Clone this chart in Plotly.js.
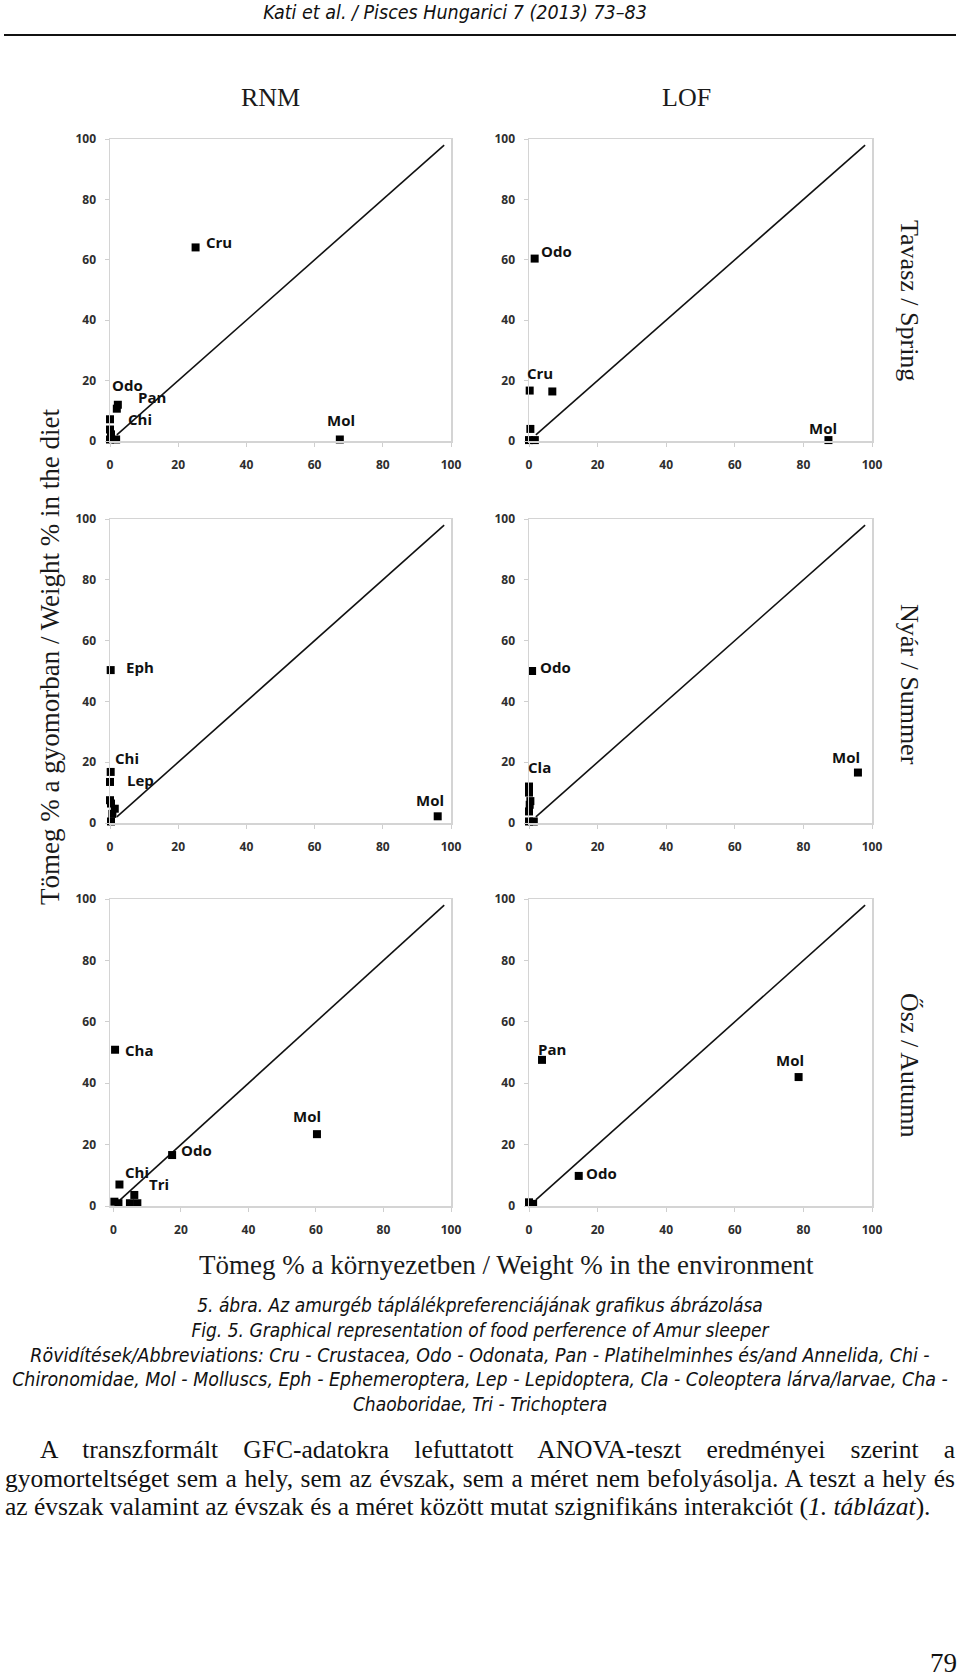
<!DOCTYPE html>
<html><head><meta charset="utf-8">
<script src="https://cdn.plot.ly/plotly-3.0.1.min.js"></script>
<style>
html,body{margin:0;padding:0;background:#fff;}
#page{position:relative;width:960px;height:1677px;overflow:hidden;}
#chart{position:absolute;left:0;top:0;width:960px;height:1677px;}
.t{position:absolute;white-space:nowrap;color:#111;}
.cap{font-family:"Liberation Sans Narrow","DejaVu Sans Condensed","Liberation Sans",sans-serif;font-style:italic;font-size:19px;left:0;width:960px;text-align:center;}
.par{font-family:"Liberation Serif","Times New Roman",serif;font-size:25.5px;}
</style></head>
<body><div id="page">
<div id="chart"></div>
<div class="t cap" style="top:1px;font-size:19.5px;left:-50px;width:1010px;">Kati et al. / Pisces Hungarici 7 (2013) 73–83</div>
<div style="position:absolute;left:4px;top:34px;width:952px;height:2px;background:#111;"></div>
<div class="t cap" style="top:1294px;">5. ábra. Az amurgéb táplálékpreferenciájának grafikus ábrázolása</div>
<div class="t cap" style="top:1319px;">Fig. 5. Graphical representation of food perference of Amur sleeper</div>
<div class="t cap" style="top:1344px;font-size:19.4px;">Rövidítések/Abbreviations: Cru - Crustacea, Odo - Odonata, Pan - Platihelminhes és/and Annelida, Chi -</div>
<div class="t cap" style="top:1368px;font-size:19.4px;">Chironomidae, Mol - Molluscs, Eph - Ephemeroptera, Lep - Lepidoptera, Cla - Coleoptera lárva/larvae, Cha -</div>
<div class="t cap" style="top:1393px;">Chaoboridae, Tri - Trichoptera</div>
<div class="t par" style="top:1435px;left:40px;width:915px;text-align:justify;text-align-last:justify;white-space:normal;">A transzformált GFC-adatokra lefuttatott ANOVA-teszt eredményei szerint a</div>
<div class="t par" style="top:1464px;left:5px;width:950px;text-align:justify;text-align-last:justify;white-space:normal;">gyomorteltséget sem a hely, sem az évszak, sem a méret nem befolyásolja. A teszt a hely és</div>
<div class="t par" style="top:1492px;left:5px;">az évszak valamint az évszak és a méret között mutat szignifikáns interakciót (<i>1. táblázat</i>).</div>
<div class="t" style="top:1648px;right:3px;font-size:27px;font-family:'Liberation Serif',serif;">79</div>
</div>
<script>
// ---- data ----
const oneToOne = [2, 98];

const rnmSpringX = [25.1, 67.4, 2.3, 2.0, 0.0, 0.0, 0.3, 0.0, 1.8];
const rnmSpringY = [64.1, 0.5, 12.0, 10.7, 7.2, 3.8, 2.2, 0.5, 0.5];
const rnmSpringLab = ['Cru', 'Mol', 'Odo', 'Pan', 'Chi'];
const rnmSpringLabIdx = [0, 1, 2, 2, 4];

const lofSpringX = [1.65, 0.2, 6.8, 0.4, 0.0, 1.7, 87.3];
const lofSpringY = [60.4, 16.7, 16.4, 4.0, 0.3, 0.3, 0.3];
const lofSpringLab = ['Odo', 'Cru', 'Mol'];
const lofSpringLabIdx = [0, 1, 6];

const rnmSummerX = [0.2, 0.2, 0.0, 0.0, 0.3, 1.4, 0.7, 0.3, 96.1];
const rnmSummerY = [50.3, 16.8, 13.5, 7.5, 6.4, 4.7, 3.0, 0.5, 2.2];
const rnmSummerLab = ['Eph', 'Chi', 'Lep', 'Mol'];
const rnmSummerLabIdx = [0, 1, 2, 8];

const lofSummerX = [0.9, 0.0, 0.0, 0.4, 0.2, 0.0, 0.0, 1.4, 95.9];
const lofSummerY = [50.0, 12.0, 10.0, 7.2, 6.0, 3.8, 0.5, 0.5, 16.6];
const lofSummerLab = ['Odo', 'Cla', 'Mol'];
const lofSummerLabIdx = [0, 1, 8];

const rnmAutumnX = [0.5, 1.8, 0.3, 1.5, 6.2, 4.9, 7.1, 17.4, 60.3];
const rnmAutumnY = [50.9, 7.0, 1.4, 0.9, 3.6, 0.9, 0.9, 16.6, 23.4];
const rnmAutumnLab = ['Cha', 'Chi', 'Tri', 'Odo', 'Mol'];
const rnmAutumnLabIdx = [0, 1, 4, 7, 8];

const lofAutumnX = [3.8, 78.6, 14.5, 0.0, 1.2];
const lofAutumnY = [47.6, 42.0, 9.8, 1.2, 0.7];
const lofAutumnLab = ['Pan', 'Mol', 'Odo'];
const lofAutumnLabIdx = [0, 1, 2];

const tickVals = [0, 20, 40, 60, 80, 100];
const tickText = ['0', '20', '40', '60', '80', '100'];

const siteTitles = ['RNM', 'LOF'];
const seasonTitles = ['Tavasz / Spring', 'Nyár / Summer', 'Ősz / Autumn'];
const xTitle = 'Tömeg % a környezetben / Weight % in the environment';
const yTitle = 'Tömeg % a gyomorban / Weight % in the diet';

// ---- styling / layout (positions in pixels, not data) ----
const W = 960, H = 1677;
const colPx = [[110, 451], [529, 872]];
const rowPx = [[139, 441], [519, 823], [899, 1206]];
// label offsets [xanchor, xshift, yshift] per label
const offs = {
  1: [['left', 8, 5], ['center', 1, 19], ['center', 10, 20], ['left', 18, 8], ['left', 16, 0]],
  2: [['left', 4, 8], ['center', 10, 18], ['center', -5, 12]],
  3: [['left', 13, 3], ['left', 2, 14], ['left', 15, 2], ['center', -8, 16]],
  4: [['left', 6, 4], ['left', -3, 20], ['center', -12, 16]],
  5: [['left', 8, 0], ['left', 4, 13], ['left', 13, 11], ['left', 7, 5], ['center', -10, 18]],
  6: [['center', 10, 11], ['center', -9, 17], ['left', 5, 3]]
};

const panels = [
  [rnmSpringX, rnmSpringY, rnmSpringLab, rnmSpringLabIdx],
  [lofSpringX, lofSpringY, lofSpringLab, lofSpringLabIdx],
  [rnmSummerX, rnmSummerY, rnmSummerLab, rnmSummerLabIdx],
  [lofSummerX, lofSummerY, lofSummerLab, lofSummerLabIdx],
  [rnmAutumnX, rnmAutumnY, rnmAutumnLab, rnmAutumnLabIdx],
  [lofAutumnX, lofAutumnY, lofAutumnLab, lofAutumnLabIdx]
];

const traces = [];
const annotations = [];
const layout = {
  width: W, height: H,
  margin: {l: 0, r: 0, t: 0, b: 0},
  paper_bgcolor: '#fff', plot_bgcolor: '#fff',
  showlegend: false,
  annotations: annotations
};

const tickFont = {family: 'Open Sans, DejaVu Sans, sans-serif', size: 12, color: '#2e2e2e', weight: 'bold'};
const labFont = {family: 'Open Sans, DejaVu Sans, sans-serif', size: 15, color: '#111', weight: 'bold'};

panels.forEach((p, i) => {
  const n = i + 1;
  const col = i % 2, row = Math.floor(i / 2);
  const xa = n === 1 ? 'x' : 'x' + n, ya = n === 1 ? 'y' : 'y' + n;
  const xk = n === 1 ? 'xaxis' : 'xaxis' + n, yk = n === 1 ? 'yaxis' : 'yaxis' + n;
  const xr = (n === 5) ? [-1, 100] : [0, 100];
  layout[xk] = {
    domain: [colPx[col][0] / W, colPx[col][1] / W], range: xr, anchor: ya,
    tickvals: tickVals, ticktext: tickText, tickfont: tickFont,
    ticks: 'outside', ticklen: 4, tickcolor: '#cfcfcf', ticklabelstandoff: 8,
    showline: true, linecolor: '#d4d4d4', linewidth: 1.5, mirror: true,
    showgrid: false, zeroline: false, fixedrange: true
  };
  layout[yk] = {
    domain: [1 - rowPx[row][1] / H, 1 - rowPx[row][0] / H], range: [0, 100], anchor: xa,
    tickvals: tickVals, ticktext: tickText, tickfont: tickFont,
    ticks: 'outside', ticklen: 4, tickcolor: '#cfcfcf', ticklabelstandoff: 6,
    showline: true, linecolor: '#d4d4d4', linewidth: 1.5, mirror: true,
    showgrid: false, zeroline: false, fixedrange: true
  };
  traces.push({
    type: 'scatter', mode: 'lines', x: oneToOne, y: oneToOne, xaxis: xa, yaxis: ya,
    line: {color: '#111', width: 1.6}, hoverinfo: 'skip'
  });
  traces.push({
    type: 'scatter', mode: 'markers', x: p[0], y: p[1], xaxis: xa, yaxis: ya,
    cliponaxis: false,
    marker: {symbol: 'square', size: 8, color: '#000'}
  });
  p[2].forEach((lab, k) => {
    const idx = p[3][k];
    const o = offs[n][k];
    annotations.push({
      xref: xa, yref: ya, x: p[0][idx], y: p[1][idx], text: lab, showarrow: false,
      xanchor: o[0], yanchor: 'middle', xshift: o[1], yshift: o[2], font: labFont
    });
  });
});

const serif = 'Liberation Serif, Times New Roman, serif';
function pa(xpx, ypx, text, size, angle) {
  annotations.push({xref: 'paper', yref: 'paper', x: xpx / W, y: 1 - ypx / H, text: text,
    textangle: angle || 0, xanchor: 'center', yanchor: 'middle', showarrow: false,
    font: {family: serif, size: size, color: '#1a1a1a'}});
}
pa(270, 98, siteTitles[0], 26);
pa(686, 98, siteTitles[1], 26);
const seasonY = [300, 684, 1065];
seasonTitles.forEach((s, i) => pa(910, seasonY[i], s, 26, 90));
pa(50, 657, yTitle, 27, -90);
pa(506, 1265, xTitle, 27);

Plotly.newPlot('chart', traces, layout, {displayModeBar: false, staticPlot: true});
</script>
</body></html>
